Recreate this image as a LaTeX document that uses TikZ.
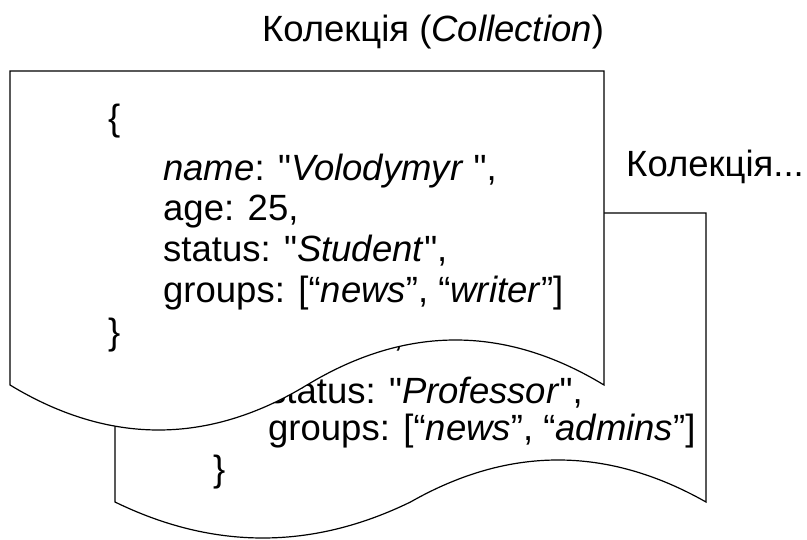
\documentclass[tikz,border=0pt]{standalone}
\usepackage{fontspec}
% keep " as a straight quote; curly quotes are typed directly
\setmainfont{Liberation Sans}[Ligatures=TeXOff]
\begin{document}
\begin{tikzpicture}[x=1pt,y=-1pt,
  doc/.style={draw=black,line width=1.2pt,fill=white},
  codeline/.style={anchor=base west,inner sep=0pt,font=\fontsize{36.5}{40}\selectfont},
  caption/.style={anchor=base,inner sep=0pt,font=\fontsize{36.5}{40}\selectfont}]
\useasboundingbox (0,0) rectangle (807,540);

% second collection (behind)
\draw[doc] (115,213) -- (706,213) -- (706,502)
  .. controls (607,446) and (509,446) .. (410.5,502)
  .. controls (312,550) and (213.5,550) .. (115,502) -- cycle;
\node[codeline] (ba) at (268,347) {age: 40,};
\node[codeline] (bs) at (268,403) {status: "\textit{Professor}",};
\node[codeline] (bg) at (268,441) {groups: [“\textit{news}”, “\textit{admins}”]};
\node[codeline] (bc) at (213,481) {\}};

% first collection (front)
\draw[doc] (10,71) -- (604,71) -- (604,385)
  .. controls (505,325) and (406,325) .. (307,385)
  .. controls (208,445) and (109,445) .. (10,385) -- cycle;
\node[codeline] (fo) at (108,131) {\{};
\node[codeline] (fn) at (163,181) {\textit{name}: "\textit{Volodymyr} ",};
\node[codeline] (fa) at (163,221) {age: 25,};
\node[codeline] (fs) at (163,262) {status: "\textit{Student}",};
\node[codeline] (fg) at (163,303) {groups: [“\textit{news}”, “\textit{writer}”]};
\node[codeline] (fc) at (108,345) {\}};

% captions
\node[caption] (title) at (433,42) {Колекція (\textit{Collection})};
\node[caption] (side) at (715,177) {Колекція...};
\end{tikzpicture}
\end{document}
